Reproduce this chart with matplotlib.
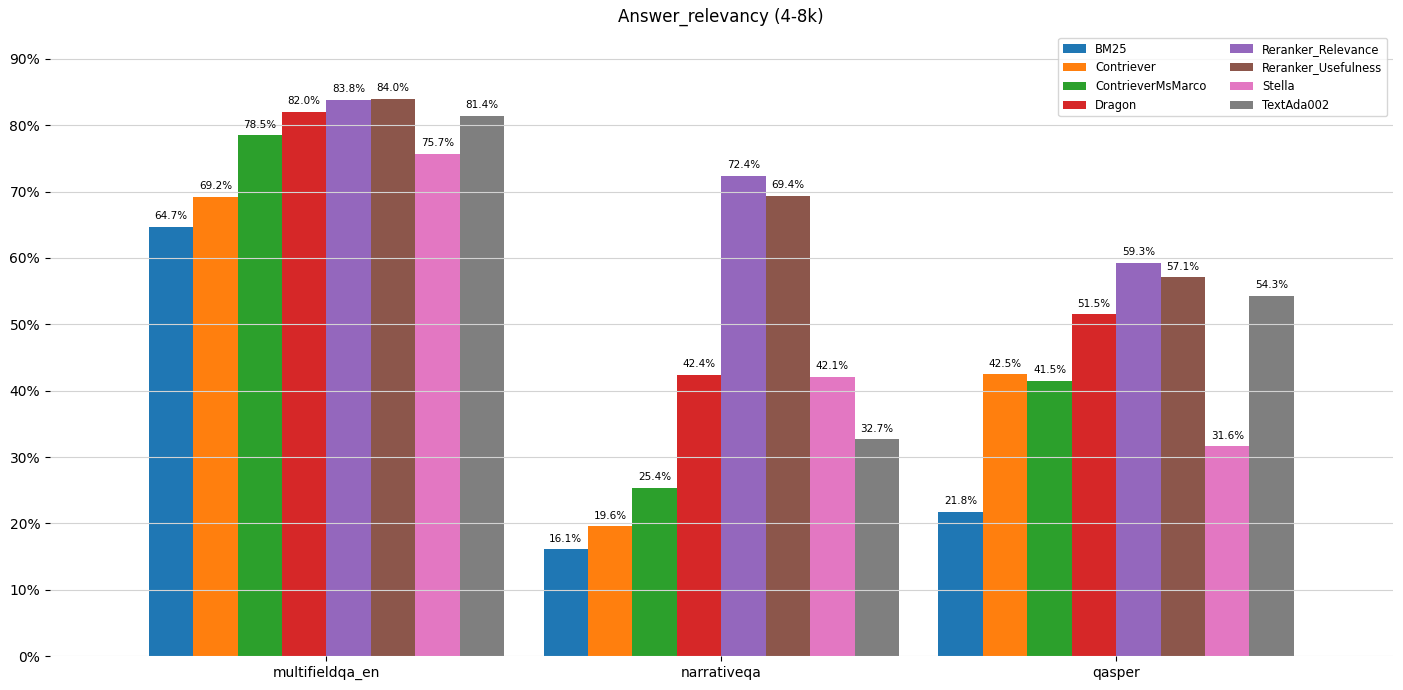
import numpy as np
import matplotlib.pyplot as plt
from matplotlib.ticker import PercentFormatter

datasets = ["multifieldqa_en", "narrativeqa", "qasper"]
methods = ["BM25", "Contriever", "ContrieverMsMarco", "Dragon",
           "Reranker_Relevance", "Reranker_Usefulness", "Stella", "TextAda002"]
colors = ["tab:blue", "tab:orange", "tab:green", "tab:red",
          "tab:purple", "tab:brown", "tab:pink", "tab:gray"]

# one list per method: values for multifieldqa_en, narrativeqa, qasper
bm25 = [64.7, 16.1, 21.8]
contriever = [69.2, 19.6, 42.5]
contriever_msmarco = [78.5, 25.4, 41.5]
dragon = [82.0, 42.4, 51.5]
reranker_relevance = [83.8, 72.4, 59.3]
reranker_usefulness = [84.0, 69.4, 57.1]
stella = [75.7, 42.1, 31.6]
textada002 = [81.4, 32.7, 54.3]

values = [bm25, contriever, contriever_msmarco, dragon,
          reranker_relevance, reranker_usefulness, stella, textada002]

fig = plt.figure(figsize=(14.03, 6.90), dpi=100)
ax = fig.add_axes([0.0356, 0.049, 0.957, 0.908])

x = np.arange(len(datasets))
n = len(methods)
width = 0.9 / n

for i in range(n):
    vals = np.array(values[i]) / 100.0
    pos = x - 0.45 + width * (i + 0.5)
    bars = ax.bar(pos, vals, width, color=colors[i], label=methods[i])
    for b, v in zip(bars, values[i]):
        ax.annotate(f"{v:.1f}%", (b.get_x() + b.get_width() / 2, b.get_height()),
                    xytext=(0, 4), textcoords="offset points",
                    ha="center", va="bottom", fontsize=7.5)

ax.set_xticks(x)
ax.set_xticklabels(datasets, fontsize=10)
ax.set_xlim(-0.7, 2.7)
ax.set_ylim(0, 0.944)
ax.set_yticks(np.arange(0, 0.91, 0.1))
ax.yaxis.set_major_formatter(PercentFormatter(1.0, decimals=0))
ax.tick_params(axis="y", labelsize=10)
ax.grid(axis="y", color="lightgray", linewidth=0.8)
for s in ax.spines.values():
    s.set_visible(False)

ax.set_title("Answer_relevancy (4-8k)", fontsize=12)
ax.legend(loc="upper right", ncol=2, fontsize=8.3,
          bbox_to_anchor=(1.0, 0.996))

plt.savefig("out.png", dpi=100)
